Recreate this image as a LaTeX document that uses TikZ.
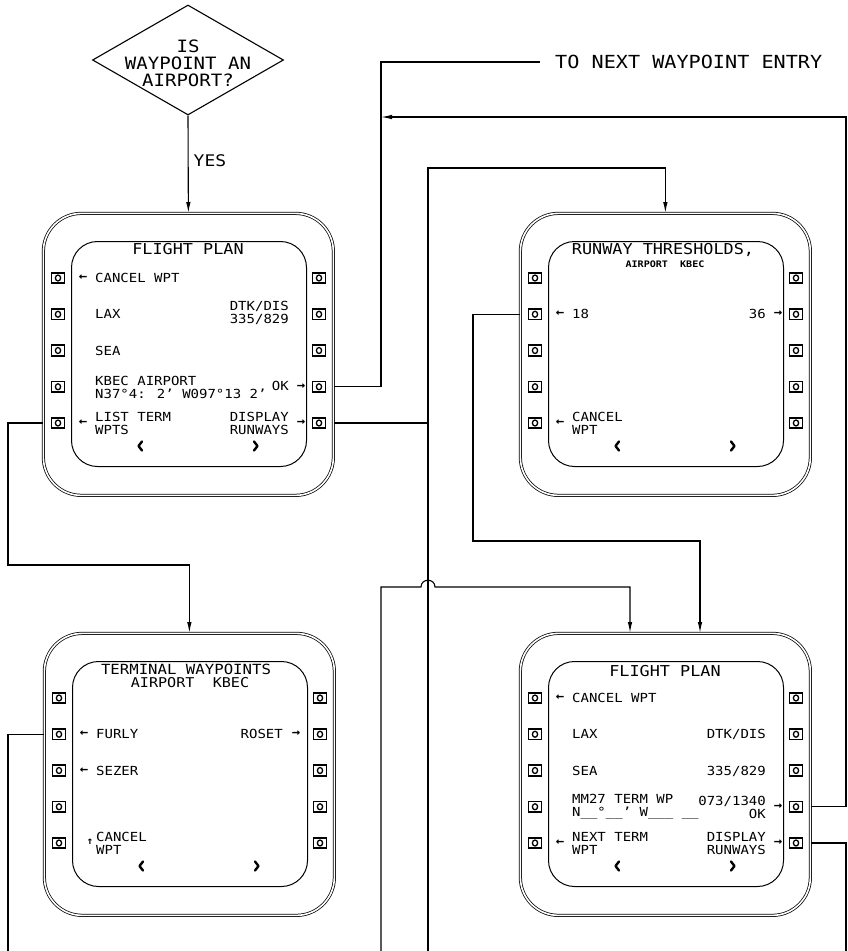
\documentclass[tikz,border=0pt]{standalone}
\usepackage{fontspec}
\newfontfamily\cad{DejaVu Sans Mono}[FakeStretch=1.12]
\usetikzlibrary{arrows.meta,shapes.geometric}
\tikzset{
  ln/.style={line width=1.1pt},
  arr/.style={ln,-{Latex[length=11pt,width=4.5pt]}},
  frame/.style={draw,double,double distance=1.6pt,line width=0.75pt,rounded corners=38pt,
    minimum width=290pt,minimum height=282pt,inner sep=0pt},
  screen/.style={draw,line width=1pt,rounded corners=26pt,minimum width=235pt,minimum height=225pt,inner sep=0pt},
  btn/.style={draw,line width=1.6pt,minimum width=13pt,minimum height=10.5pt,inner sep=0pt,
    path picture={\draw[line width=1.3pt] (path picture bounding box.center) ellipse (2.6pt and 3pt);}},
  tx/.style={font=\cad\fontsize{12.5}{13}\selectfont,inner sep=0pt,align=left},
  ar/.style={font=\cad\bfseries\fontsize{12.5}{13}\selectfont,inner sep=0pt},
  lt/.style={tx,anchor=west},
  rt/.style={tx,anchor=east,align=right},
  ttl/.style={font=\cad\fontsize{15}{15}\selectfont,inner sep=0pt},
  chev/.style={line width=2.4pt,line cap=round,line join=round}
}
\newcommand\unitbase[1]{%
  \node[frame,anchor=north west] (#1) at (0,0) {};
  \node[screen] (#1s) at (146,141) {};
  \foreach \i/\yy in {1/65,2/101.25,3/137.5,4/173.75,5/210}{
    \node[btn] (#1L\i) at (15,\yy) {};
    \node[btn] (#1R\i) at (276,\yy) {};
  }
  \draw[chev] (99,228.5) -- (95.5,233) -- (99,237.5);
  \draw[chev] (211,228.5) -- (214.5,233) -- (211,237.5);
}
\begin{document}
\begin{tikzpicture}[x=1pt,y=-1pt]
\useasboundingbox (0,0) rectangle (847,951);

% decision
\node[diamond,draw,ln,minimum width=191pt,minimum height=110pt,inner sep=0pt] (D) at (188,60) {};
\node[font=\cad\fontsize{17}{17}\selectfont,align=center,inner sep=0pt] (Dt) at (188,63) {IS\\WAYPOINT AN\\AIRPORT?};

% top-left unit
\begin{scope}[shift={(43,213)}]
  \unitbase{TL}
  \node[ttl] (TLt) at (145,36) {FLIGHT PLAN};
  \node[ar] (TLa1) at (40,65) {←};
  \node[lt] (TLx1) at (52,65) {CANCEL WPT};
  \node[lt] (TLx2) at (52,101) {LAX};
  \node[rt] (TLy2) at (246,100) {DTK/DIS\\335/829};
  \node[lt] (TLx3) at (52,138) {SEA};
  \node[lt] (TLx4) at (52,174) {KBEC AIRPORT\\N37°4: 2’ W097°13 2’};
  \node[rt] (TLy4) at (246,173) {OK};
  \node[ar] (TLb4) at (258,174) {→};
  \node[ar] (TLa5) at (40,210) {←};
  \node[lt] (TLx5) at (52,210) {LIST TERM\\WPTS};
  \node[rt] (TLy5) at (246,210) {DISPLAY\\RUNWAYS};
  \node[ar] (TLb5) at (258,210) {→};
\end{scope}

% top-right unit
\begin{scope}[shift={(520,213)}]
  \unitbase{TR}
  \node[ttl] (TRt) at (143,37) {RUNWAY THRESHOLDS,};
  \node[font=\cad\bfseries\fontsize{9}{9}\selectfont,inner sep=0pt] (TRt2) at (145,51) {AIRPORT\ \ KBEC};
  \node[ar] (TRa2) at (40,101) {←};
  \node[lt] (TRx2) at (52,101) {18};
  \node[rt] (TRy2) at (246,101) {36};
  \node[ar] (TRb2) at (258,101) {→};
  \node[ar] (TRa5) at (40,210) {←};
  \node[lt] (TRx5) at (52,210) {CANCEL\\WPT};
\end{scope}

% bottom-left unit
\begin{scope}[shift={(44,633)}]
  \unitbase{BL}
  \node[font=\cad\fontsize{14}{14}\selectfont,inner sep=0pt] (BLt) at (142,36) {TERMINAL WAYPOINTS};
  \node[font=\cad\fontsize{13.5}{14}\selectfont,inner sep=0pt] (BLt2) at (146,50) {AIRPORT\ \ KBEC};
  \node[ar] (BLa2) at (40,101) {←};
  \node[lt] (BLx2) at (52,101) {FURLY};
  \node[rt] (BLy2) at (239,101) {ROSET};
  \node[ar] (BLb2) at (252,101) {→};
  \node[ar] (BLa3) at (40,138) {←};
  \node[lt] (BLx3) at (52,138) {SEZER};
  \node[font=\cad\bfseries\fontsize{10}{10}\selectfont,inner sep=0pt] (BLa5) at (46,209) {↑};
  \node[lt] (BLx5) at (52,210) {CANCEL\\WPT};
\end{scope}

% bottom-right unit
\begin{scope}[shift={(520,633)}]
  \unitbase{BR}
  \node[ttl] (BRt) at (145,38) {FLIGHT PLAN};
  \node[ar] (BRa1) at (40,65) {←};
  \node[lt] (BRx1) at (52,65) {CANCEL WPT};
  \node[lt] (BRx2) at (52,101) {LAX};
  \node[rt] (BRy2) at (246,101) {DTK/DIS};
  \node[lt] (BRx3) at (52,138) {SEA};
  \node[rt] (BRy3) at (246,138) {335/829};
  \node[lt] (BRx4) at (52,174) {MM27 TERM WP\\N\_\_°\_\_’ W\_\_\_ \_\_};
  \node[rt] (BRy4) at (246,174) {073/1340\\OK};
  \node[ar] (BRb4) at (258,174) {→};
  \node[ar] (BRa5) at (40,210) {←};
  \node[lt] (BRx5) at (52,210) {NEXT TERM\\WPT};
  \node[rt] (BRy5) at (246,210) {DISPLAY\\RUNWAYS};
  \node[ar] (BRb5) at (258,210) {→};
\end{scope}

% free texts
\node[font=\cad\fontsize{18}{18}\selectfont,anchor=west,inner xsep=15pt,inner ysep=0pt] (next) at (540,62) {TO NEXT WAYPOINT ENTRY};

% coordinates
\coordinate (c1) at (381,62);
\coordinate (r1) at (846,117);
\coordinate (v1) at (428,168);
\coordinate (v1b) at (428,951);
\coordinate (h1) at (381,951);
\coordinate (h2) at (381,587);
\coordinate (h3) at (630,587);
\coordinate (e1) at (473,541);
\coordinate (e2) at (700,541);
\coordinate (l1) at (8,565);
\coordinate (f1) at (8,951);
\coordinate (g1) at (846,951);

% connectors
\draw[arr] (D.south) -- node[pos=0.46,right=5pt,font=\cad\fontsize{16}{16}\selectfont,inner sep=0pt] (yes) {YES} (TL.north);
\draw[ln] (TL.east |- TLR4) -| (c1) -- (next.west);
\draw[arr] (BR.east |- BRR4) -| (r1) -- (c1 |- r1);
\draw[ln] (TL.east |- TLR5) -- (v1 |- TLR5);
\draw[arr] (v1b) -- (v1) -| (TR.north);
\draw[arr] (h1) -- (h2) -- (421,587) .. controls (421,578) and (435,578) .. (435,587) -- (h3) -- (h3 |- BR.north);
\draw[arr] (TR.west |- TRL2) -| (e1) -- (e2) -- (e2 |- BR.north);
\draw[arr] (TL.west |- TLL5) -| (l1) -| (BL.north);
\draw[ln] (BL.west |- BLL2) -| (f1);
\draw[ln] (BR.east |- BRR5) -| (g1);
\end{tikzpicture}
\end{document}
